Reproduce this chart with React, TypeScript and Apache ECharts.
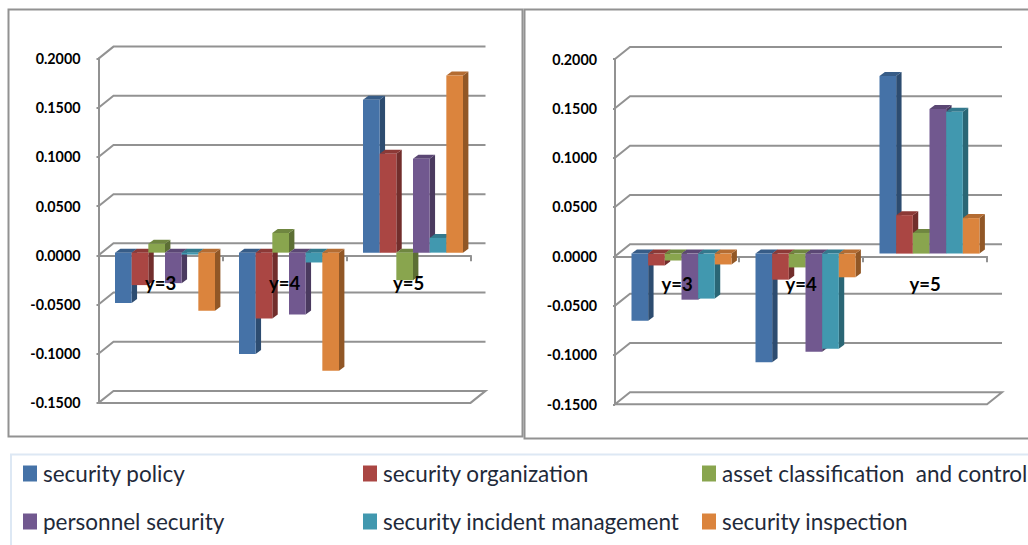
import React, { useEffect, useRef } from "react";
import * as echarts from "echarts";

const categories = ["y=3", "y=4", "y=5"];
const seriesNames = [
  "security policy",
  "security organization",
  "asset classification  and control",
  "personnel security",
  "security incident management",
  "security inspection",
];
const yTicks = [-0.15, -0.1, -0.05, 0, 0.05, 0.1, 0.15, 0.2];

const leftPolicy = [-0.0512, -0.103, 0.1555];
const leftOrganization = [-0.033, -0.067, 0.1006];
const leftAsset = [0.009, 0.02, -0.028];
const leftPersonnel = [-0.031, -0.063, 0.0955];
const leftIncident = [-0.002, -0.01, 0.015];
const leftInspection = [-0.059, -0.12, 0.18];

const rightPolicy = [-0.068, -0.11, 0.18];
const rightOrganization = [-0.012, -0.0264, 0.039];
const rightAsset = [-0.007, -0.014, 0.021];
const rightPersonnel = [-0.0467, -0.0994, 0.1467];
const rightIncident = [-0.0456, -0.0964, 0.1437];
const rightInspection = [-0.011, -0.024, 0.036];

const leftValues = [leftPolicy, leftOrganization, leftAsset, leftPersonnel, leftIncident, leftInspection];
const rightValues = [rightPolicy, rightOrganization, rightAsset, rightPersonnel, rightIncident, rightInspection];

const frontColors = ["#4572A7", "#AA4643", "#89A54E", "#71588F", "#4198AF", "#DB843D"];
const topColors = ["#375c87", "#8c3936", "#6f8640", "#5b4774", "#33798d", "#b46c32"];
const sideColors = ["#2d4c70", "#722e2c", "#5c6f34", "#4a3a5f", "#2a6675", "#915726"];

const FONT = "Lato";
const LINE = "#929292";
const BACK_DX = 15;
const BACK_DY = -12;
const BAR_DX = 4.5;
const BAR_DY = -2.7;
const DEPTH_DX = 5.4;
const DEPTH_DY = -4;

const frameItem = (params: any, api: any) => {
  const v = api.value(1);
  const cs = params.coordSys;
  const y = api.coord([0, v])[1];
  const x0 = cs.x;
  const x1 = cs.x + cs.width;
  const pts: number[][] = [
    [x0, y],
    [x0 + BACK_DX, y + BACK_DY],
    [x1 + BACK_DX, y + BACK_DY],
  ];
  if (v === yTicks[0]) pts.push([x1, y], [x0, y]);
  return {
    type: "polyline",
    shape: { points: pts },
    style: { fill: "none", stroke: LINE, lineWidth: 2 },
  };
};

const barItem = (s: number) => (params: any, api: any) => {
  const cat = api.value(0);
  const val = api.value(1);
  const center = api.coord([cat, 0]);
  const end = api.coord([cat, val]);
  const catW = api.size([1, 0])[0];
  const w = (catW * 100) / 124 / seriesNames.length;
  const x = center[0] - 3 * w + BAR_DX + s * w;
  const yZero = center[1] + BAR_DY;
  const yVal = end[1] + BAR_DY;
  const top = Math.min(yZero, yVal);
  const bottom = Math.max(yZero, yVal);
  return {
    type: "group",
    children: [
      {
        type: "polygon",
        shape: {
          points: [
            [x + w, top],
            [x + w + DEPTH_DX, top + DEPTH_DY],
            [x + w + DEPTH_DX, bottom + DEPTH_DY],
            [x + w, bottom],
          ],
        },
        style: { fill: sideColors[s] },
      },
      {
        type: "polygon",
        shape: {
          points: [
            [x, top],
            [x + DEPTH_DX, top + DEPTH_DY],
            [x + w + DEPTH_DX, top + DEPTH_DY],
            [x + w, top],
          ],
        },
        style: { fill: topColors[s] },
      },
      {
        type: "rect",
        shape: { x, y: top, width: w, height: bottom - top },
        style: { fill: frontColors[s] },
      },
    ],
  };
};

const legendSpots = [
  { left: 23, top: 462 },
  { left: 363, top: 462 },
  { left: 702, top: 462 },
  { left: 23, top: 510 },
  { left: 363, top: 510 },
  { left: 702, top: 510 },
];

export default function App() {
  const ref = useRef<HTMLDivElement>(null);
  useEffect(() => {
    const chart = echarts.init(ref.current!, undefined, { renderer: "svg" });
    const panelIdx = [0, 1];
    const grids = [
      { left: 98.5, top: 58.6, width: 372, height: 344.3 },
      { left: 615, top: 59, width: 372, height: 345.3 },
    ];
    const xAxes: any[] = [];
    panelIdx.forEach((i) => {
      xAxes.push({
        type: "category",
        gridIndex: i,
        data: categories,
        position: "bottom",
        z: 0,
        axisLine: { onZero: true, lineStyle: { color: LINE, width: 2 } },
        axisTick: { show: true, length: 6, lineStyle: { color: LINE, width: 2 } },
        axisLabel: { show: false },
        splitLine: { show: false },
      });
      xAxes.push({
        type: "category",
        gridIndex: i,
        data: categories,
        position: "bottom",
        offset: i === 0 ? -148 : -149,
        z: 10,
        axisLine: { show: false, onZero: false },
        axisTick: { show: false },
        axisLabel: {
          show: true,
          margin: 19,
          color: "#000",
          fontFamily: FONT,
          fontWeight: "bold",
          fontSize: 18.5,
        },
        splitLine: { show: false },
      });
    });
    const yAxes = panelIdx.map((i) => ({
      type: "value",
      gridIndex: i,
      min: -0.15,
      max: 0.2,
      interval: 0.05,
      axisLine: { show: true, onZero: false, lineStyle: { color: LINE, width: 2 } },
      axisTick: { show: true, length: 2, lineStyle: { color: LINE, width: 2 } },
      axisLabel: {
        margin: 18,
        color: "#000",
        fontFamily: FONT,
        fontWeight: "bold",
        fontSize: 14.3,
        formatter: (v: number) => v.toFixed(4),
      },
      splitLine: { show: false },
    }));
    const series: any[] = [];
    panelIdx.forEach((i) => {
      series.push({
        type: "custom",
        name: "frame" + i,
        xAxisIndex: i * 2,
        yAxisIndex: i,
        z: 1,
        silent: true,
        clip: false,
        renderItem: frameItem,
        data: yTicks.map((v) => [0, v]),
      });
      const values = i === 0 ? leftValues : rightValues;
      seriesNames.forEach((name, s) => {
        series.push({
          type: "custom",
          name,
          xAxisIndex: i * 2,
          yAxisIndex: i,
          z: 2,
          silent: true,
          clip: false,
          itemStyle: { color: frontColors[s] },
          renderItem: barItem(s),
          data: values[s].map((v, c) => [c, v]),
        });
      });
    });
    chart.setOption({
      animation: false,
      backgroundColor: "#fff",
      grid: grids,
      xAxis: xAxes,
      yAxis: yAxes,
      series,
      legend: seriesNames.map((name, s) => ({
        data: [name],
        left: legendSpots[s].left,
        top: legendSpots[s].top,
        padding: 0,
        icon: "rect",
        itemWidth: 14,
        itemHeight: 16,
        itemGap: 0,
        selectedMode: false,
        textStyle: { fontFamily: FONT, fontSize: 22.5, color: "#1f2a3a", padding: [0, 0, 0, 1] },
      })),
      graphic: [
        {
          type: "rect",
          z: -10,
          shape: { x: 8.5, y: 9.5, width: 514, height: 427 },
          style: { fill: "#fff", stroke: LINE, lineWidth: 2 },
        },
        {
          type: "rect",
          z: -10,
          shape: { x: 524.5, y: 9.5, width: 520, height: 429 },
          style: { fill: "#fff", stroke: LINE, lineWidth: 2 },
        },
        {
          type: "rect",
          z: -10,
          shape: { x: 11, y: 454.5, width: 1040, height: 120 },
          style: { fill: "#fff", stroke: "#dde8f4", lineWidth: 2 },
        },
      ],
    });
    return () => chart.dispose();
  }, []);
  return (
    <div
      ref={ref}
      style={{ position: "absolute", left: 0, top: 0, width: 1028, height: 545 }}
    />
  );
}
